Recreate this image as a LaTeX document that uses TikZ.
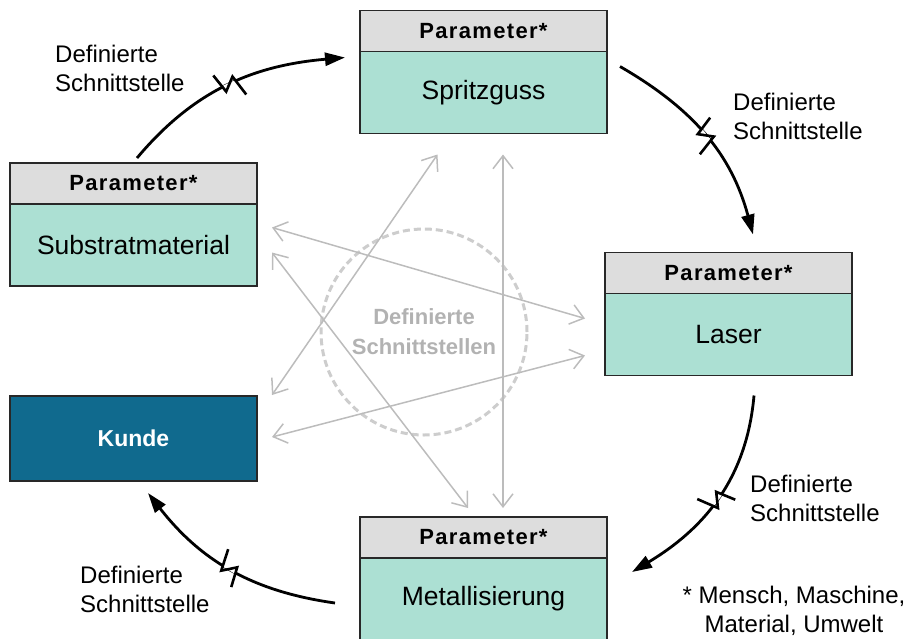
\documentclass[tikz,border=0pt]{standalone}
\usepackage{fontspec}
\setmainfont{Liberation Sans}
\newfontfamily\kopffont[LetterSpace=6.0]{Liberation Sans}
\usetikzlibrary{positioning,arrows.meta,decorations.markings}
\definecolor{kopfgrau}{RGB}{221,221,221}
\definecolor{feldgruen}{RGB}{172,224,211}
\definecolor{kundeblau}{RGB}{16,106,142}
\definecolor{rand}{RGB}{40,40,40}
\definecolor{hellgrau}{RGB}{188,188,188}
\definecolor{kreisgrau}{RGB}{205,205,205}
\begin{document}
\begin{tikzpicture}[x=1pt,y=1pt,
kopf/.style={draw=rand,line width=1.5pt,fill=kopfgrau,minimum width=247pt,minimum height=41pt,inner sep=0pt,outer sep=0pt,font=\kopffont\bfseries\fontsize{22}{26}\selectfont},
feld/.style={draw=rand,line width=1.5pt,fill=feldgruen,minimum width=247pt,minimum height=82pt,inner sep=0pt,outer sep=0pt,font=\fontsize{26.5}{32}\selectfont},
kunde/.style={draw=rand,line width=1.5pt,fill=kundeblau,text=white,minimum width=247pt,minimum height=85pt,inner sep=0pt,outer sep=0pt,font=\bfseries\fontsize{23}{27}\selectfont},
lab/.style={align=left,inner sep=0pt,font=\fontsize{24}{29}\selectfont},
brk/.style={postaction={decorate},decoration={markings,mark=at position 0.5 with {\draw[-,white,line width=3.5pt] (-7pt,0)--(7pt,0); \draw[-,black,line width=2.6pt,line join=miter] (-11pt,15pt)--(-6pt,-5pt)--(6pt,6pt)--(11pt,-16pt);}}},
pf/.style={arrows={-Triangle[length=20pt,width=13pt]},line width=2.8pt,brk},
grau/.style={arrows={Straight Barb[length=13pt,width=20pt]-Straight Barb[length=13pt,width=20pt]},draw=hellgrau,line width=1.5pt},
kreis/.style={circle,draw=kreisgrau,line width=3pt,dash pattern=on 7pt off 4pt,minimum size=206pt,inner sep=0pt,align=center,text=hellgrau!95!black,font=\bfseries\fontsize{22}{30}\selectfont}]
\useasboundingbox (0,0) rectangle (909,-638);
\node[kreis] (kr) at (424,-332) {Definierte\\Schnittstellen};
\node[kopf] (spH) at (483.5,-31) {Parameter*};
\node[feld,below=0pt of spH] (sp) {Spritzguss};
\node[kopf] (subH) at (133.5,-183.5) {Parameter*};
\node[feld,below=0pt of subH] (sub) {Substratmaterial};
\node[kopf] (lasH) at (728.5,-273) {Parameter*};
\node[feld,below=0pt of lasH] (las) {Laser};
\node[kopf] (metH) at (483.5,-537.5) {Parameter*};
\node[feld,below=0pt of metH] (met) {Metallisierung};
\node[kunde] (kd) at (133.5,-438.5) {Kunde};
\draw[grau] ([xshift=-46pt,yshift=-21pt]sp.south) -- ([xshift=15pt,yshift=1pt]kd.north east);
\draw[grau] ([xshift=19.5pt,yshift=-21pt]sp.south) -- ([xshift=19.5pt,yshift=9pt]metH.north);
\draw[grau] ([xshift=15pt,yshift=17.5pt]sub.east) -- ([xshift=-20pt,yshift=16pt]las.west);
\draw[grau] ([xshift=15pt,yshift=-7.5pt]sub.east) -- ([xshift=-15.5pt,yshift=9pt]metH.north);
\draw[grau] ([xshift=15pt,yshift=1.5pt]kd.east) -- ([xshift=-20pt,yshift=-21pt]las.west);
\draw[pf] ([xshift=3.5pt,yshift=5pt]subH.north) to[out=50,in=185] ([xshift=-15pt,yshift=-6pt]spH.south west);
\draw[pf] ([xshift=13pt,yshift=-15pt]sp.north east) to[out=-30,in=105] ([xshift=24.5pt,yshift=18pt]lasH.north);
\draw[pf] ([xshift=25.5pt,yshift=-20pt]las.south) to[out=-95,in=31] ([xshift=25pt,yshift=-14pt]met.north east);
\draw[pf] ([xshift=-25pt,yshift=-4pt]met.west) to[out=172,in=-52] ([xshift=14.5pt,yshift=-12pt]kd.south);
\node[lab,anchor=west] (l1) at (55,-68) {Definierte\\Schnittstelle};
\node[lab,anchor=west] (l2) at (733,-116) {Definierte\\Schnittstelle};
\node[lab,anchor=west] (l3) at (750,-498) {Definierte\\Schnittstelle};
\node[lab,anchor=west] (l4) at (80,-589) {Definierte\\Schnittstelle};
\node[lab,align=center] (fn) at (794,-611) {* Mensch, Maschine,\\Material, Umwelt};
\end{tikzpicture}
\end{document}
